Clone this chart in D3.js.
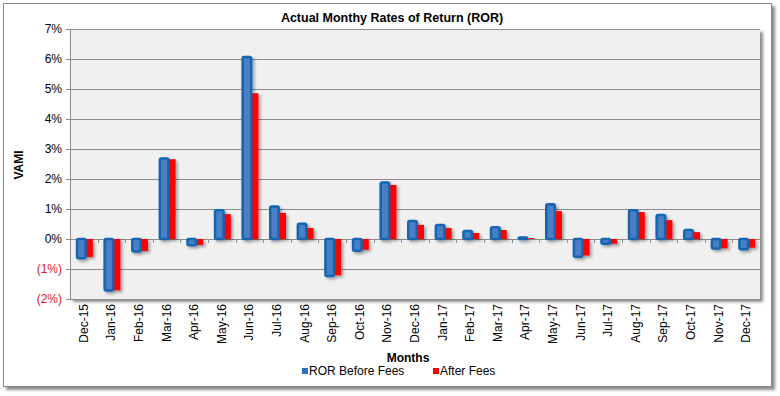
<!DOCTYPE html>
<html>
<head>
<meta charset="utf-8">
<script src="https://cdn.jsdelivr.net/npm/d3@7"></script>
<style>
  body { margin: 0; background: #fff; }
  svg { display: block; font-family: Arial, "Liberation Sans", sans-serif; }
</style>
</head>
<body>
<svg width="780" height="396"></svg>
<script>
const months = ['Dec-15', 'Jan-16', 'Feb-16', 'Mar-16', 'Apr-16', 'May-16', 'Jun-16', 'Jul-16',
  'Aug-16', 'Sep-16', 'Oct-16', 'Nov-16', 'Dec-16', 'Jan-17', 'Feb-17', 'Mar-17', 'Apr-17',
  'May-17', 'Jun-17', 'Jul-17', 'Aug-17', 'Sep-17', 'Oct-17', 'Nov-17', 'Dec-17'];

// monthly returns in percent
const beforeFees = [-0.64, -1.72, -0.42, 2.68, -0.21, 0.96, 6.07, 1.08, 0.51, -1.23, -0.39, 1.88, 0.6,
  0.47, 0.27, 0.39, 0.05, 1.16, -0.59, -0.16, 0.96, 0.8, 0.3, -0.32, -0.34];
const afterFees = [-0.6, -1.71, -0.4, 2.66, -0.2, 0.83, 4.86, 0.87, 0.37, -1.21, -0.36, 1.8, 0.47,
  0.37, 0.2, 0.3, 0.03, 0.93, -0.55, -0.16, 0.9, 0.63, 0.23, -0.31, -0.29];

const yTicks = [-2, -1, 0, 1, 2, 3, 4, 5, 6, 7];

const svg = d3.select('svg');

const defs = svg.append('defs');
const shadow = defs.append('filter').attr('id', 'shadow')
  .attr('x', '-20%').attr('y', '-20%').attr('width', '150%').attr('height', '150%');
shadow.append('feDropShadow')
  .attr('dx', 2).attr('dy', 2).attr('stdDeviation', 1.5)
  .attr('flood-color', '#000').attr('flood-opacity', 0.35);

const frameShadow = defs.append('filter').attr('id', 'frameShadow')
  .attr('x', '-5%').attr('y', '-5%').attr('width', '110%').attr('height', '110%');
frameShadow.append('feDropShadow')
  .attr('dx', 3).attr('dy', 3).attr('stdDeviation', 1.5)
  .attr('flood-color', '#000').attr('flood-opacity', 0.45);

// outer frame
svg.append('rect')
  .attr('x', 3.5).attr('y', 3.5).attr('width', 768).attr('height', 383)
  .attr('fill', '#fff').attr('stroke', '#888').attr('stroke-width', 1)
  .attr('filter', 'url(#frameShadow)');

const margin = {top: 29, right: 20, bottom: 97, left: 70};
const width = 780 - margin.left - margin.right;
const height = 396 - margin.top - margin.bottom;
const g = svg.append('g').attr('transform', `translate(${margin.left},${margin.top})`);

const x = d3.scaleBand().domain(months).range([0, width]);
const y = d3.scaleLinear().domain([-2, 7]).range([height, 0]);

// plot area
g.append('rect')
  .attr('width', width).attr('height', height)
  .attr('fill', '#f0f0f0')
  .attr('filter', 'url(#frameShadow)');

// gridlines
g.append('g')
  .selectAll('line')
  .data(yTicks)
  .enter().append('line')
    .attr('x1', 0).attr('x2', width)
    .attr('y1', d => Math.round(y(d)) + 0.5).attr('y2', d => Math.round(y(d)) + 0.5)
    .attr('stroke', '#8c8c8c').attr('stroke-width', 1);

// y axis
const yAxis = g.append('g')
  .attr('class', 'axis axis--y')
  .call(d3.axisLeft(y).tickValues(yTicks).tickSize(4).tickPadding(4)
    .tickFormat(d => d < 0 ? `(${-d}%)` : `${d}%`));
yAxis.select('.domain').attr('stroke', '#8c8c8c');
yAxis.selectAll('.tick line').attr('stroke', '#8c8c8c');
yAxis.selectAll('.tick text')
  .attr('font-size', 12)
  .attr('font-family', 'Arial, "Liberation Sans", sans-serif')
  .attr('fill', d => d < 0 ? '#e31b1b' : '#000');

// category ticks on the zero line
g.append('g')
  .selectAll('line')
  .data(months.slice(1))
  .enter().append('line')
    .attr('x1', d => Math.round(x(d)) + 0.5).attr('x2', d => Math.round(x(d)) + 0.5)
    .attr('y1', y(0)).attr('y2', y(0) + 4)
    .attr('stroke', '#8c8c8c');

// bars
const blueW = 11;
const redW = 7;
const bars = g.append('g').attr('filter', 'url(#shadow)');
const grp = bars.selectAll('.bar')
  .data(months)
  .enter().append('g')
    .attr('class', 'bar')
    .attr('transform', d => `translate(${x(d) + x.bandwidth() / 2}, 0)`);

grp.append('rect')
  .attr('x', 2)
  .attr('width', redW)
  .attr('y', (d, i) => y(Math.max(0, afterFees[i])))
  .attr('height', (d, i) => Math.abs(y(afterFees[i]) - y(0)))
  .attr('fill', '#ff0000');

grp.append('rect')
  .attr('x', -8 + 1.25)
  .attr('width', blueW - 2.5)
  .attr('y', (d, i) => y(Math.max(0, beforeFees[i])))
  .attr('height', (d, i) => Math.abs(y(beforeFees[i]) - y(0)))
  .attr('rx', 1.5)
  .attr('fill', '#4a80c3')
  .attr('stroke', '#1565b2')
  .attr('stroke-width', 2.5);

// x tick labels (rotated, at the bottom)
g.append('g')
  .selectAll('text')
  .data(months)
  .enter().append('text')
    .attr('transform', d => `translate(${x(d) + x.bandwidth() / 2 + 4}, ${height + 5}) rotate(-90)`)
    .attr('text-anchor', 'end')
    .attr('font-size', 12)
    .text(d => d);

// title
svg.append('text')
  .attr('x', 392).attr('y', 22)
  .attr('text-anchor', 'middle')
  .attr('font-size', 12.5).attr('font-weight', 'bold')
  .text('Actual Monthy  Rates  of  Return  (ROR)');

// axis titles
svg.append('text')
  .attr('transform', 'translate(23, 165) rotate(-90)')
  .attr('text-anchor', 'middle')
  .attr('font-size', 12).attr('font-weight', 'bold')
  .text('VAMI');

svg.append('text')
  .attr('x', 408).attr('y', 362)
  .attr('text-anchor', 'middle')
  .attr('font-size', 12).attr('font-weight', 'bold')
  .text('Months');

// legend
const legend = [
  {label: 'ROR Before Fees', color: '#2a72ba', x: 302},
  {label: 'After Fees', color: '#ff0000', x: 433}
];
const lg = svg.append('g').selectAll('g')
  .data(legend)
  .enter().append('g')
    .attr('transform', d => `translate(${d.x}, 375)`);
lg.append('rect')
  .attr('x', 0).attr('y', -7).attr('width', 6).attr('height', 6)
  .attr('fill', d => d.color);
lg.append('text')
  .attr('x', 7).attr('y', 0)
  .attr('font-size', 12)
  .text(d => d.label);
</script>
</body>
</html>
